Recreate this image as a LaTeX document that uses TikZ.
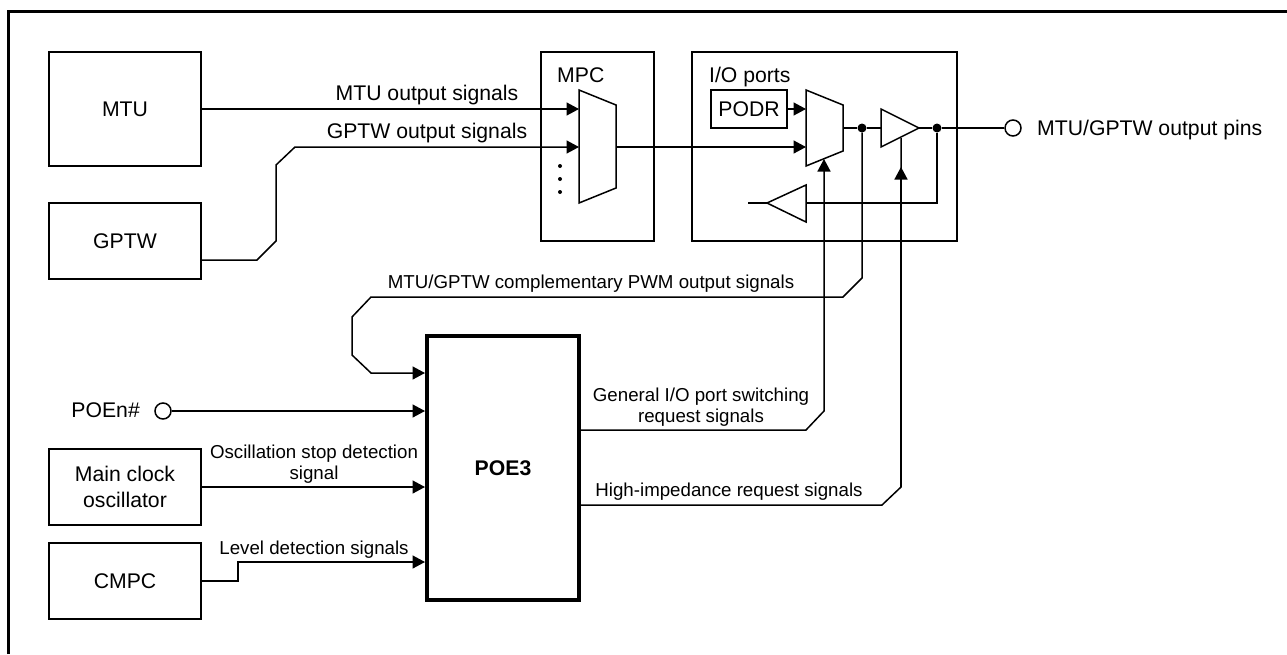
\documentclass[tikz,border=0pt]{standalone}
\usepackage{fontspec}
\setmainfont{Liberation Sans}
\usetikzlibrary{arrows.meta}
\tikzset{
 x=1pt,y=-1pt,
 wire/.style={draw=black,line width=1.5pt,line join=miter},
 arr/.style={wire,-{Triangle[length=12.5pt,width=13pt]}},
 blockbox/.style={draw=black,line width=1.5pt,fill=white,inner sep=0pt,rounded corners=0pt},
 lab/.style={font=\fontsize{21.2}{26}\selectfont,inner sep=0pt,align=center},
 smalllab/.style={font=\fontsize{18.7}{21}\selectfont,inner sep=0pt,align=center},
 junction/.style={circle,fill=black,inner sep=0pt,minimum size=9pt},
 pin/.style={circle,draw=black,line width=1.5pt,fill=white,inner sep=0pt,minimum size=16pt},
 gate/.style={draw=black,line width=1.5pt,fill=white,line join=miter},
 tinydot/.style={circle,fill=black,inner sep=0pt,minimum size=4pt},
}
\begin{document}
\begin{tikzpicture}
\useasboundingbox (0,0) rectangle (1287,654);
\fill[white] (0,0) rectangle (1287,654);
\coordinate (frameA) at (8.5,11.5);
\coordinate (frameB) at (8.5,654);
\coordinate (frameC) at (1287,11.5);
\draw[line width=3pt] (frameB) -- (frameA) -- (frameC);
% boxes
\node[blockbox,minimum width=152pt,minimum height=114pt,lab] (mtu) at (125,109) {MTU};
\node[blockbox,minimum width=152pt,minimum height=76pt,lab] (gptw) at (125,241) {GPTW};
\node[blockbox,minimum width=152pt,minimum height=76pt,lab] (osc) at (125,487) {Main clock\\oscillator};
\node[blockbox,minimum width=152pt,minimum height=76pt,lab] (cmpc) at (125,581) {CMPC};
\node[blockbox,minimum width=113pt,minimum height=189pt] (mpcbox) at (597.5,146.5) {};
\node[blockbox,minimum width=265pt,minimum height=189pt] (iobox) at (824.5,146.5) {};
\node[lab,anchor=base west] (mpclab) at (557,82) {MPC};
\node[lab,anchor=base west] (iolab) at (709,82) {I/O ports};
\node[blockbox,minimum width=76pt,minimum height=38pt,lab] (podr) at (749,109) {PODR};
\node[draw=black,line width=4pt,fill=white,minimum width=152pt,minimum height=264pt,inner sep=0pt,lab] (poe) at (503,468) {\textbf{POE3}};
% coordinates
\coordinate (m1a) at (579,109); \coordinate (m1b) at (579,147); \coordinate (m1o) at (616,147);
\coordinate (m2a) at (806,109); \coordinate (m2b) at (806,147); \coordinate (m2o) at (843,128);
\coordinate (m2s) at (824,159); \coordinate (b1s) at (901,167);
\coordinate (b1i) at (881,128); \coordinate (b1o) at (919,128);
\coordinate (b2i) at (806,203); \coordinate (b2o) at (767,203); \coordinate (b2e) at (748,203);
\node[junction] (j1) at (862,128) {};
\node[junction] (j2) at (937,128) {};
\node[pin] (outpin) at (1013,128) {};
\node[pin] (poepin) at (163,411) {};
% wires
\draw[arr] (mtu.east |- m1a) -- (m1a);
\draw[arr] (gptw.east |- 0,260) -- (257,260) -- (276,241) -- (276,165) -- (295,147) -- (m1b);
\draw[wire] (m1o) -- (700,147);
\draw[arr] (700,147) -- (m2b);
\draw[arr] (podr.east) -- (m2a);
\draw[wire] (m2o) -- (j1) -- (b1i);
\draw[wire] (b1o) -- (j2) -- (outpin);
\draw[wire] (j2) -- (937,203) -- (b2i);
\draw[wire] (b2o) -- (b2e);
\draw[arr] (j1) -- (862,278) -- (843,297) -- (371,297) -- (352,317) -- (352,355) -- (371,373) -- (poe.west |- 0,373);
\draw[arr] (poepin) -- (poe.west |- poepin);
\draw[arr] (osc.east) -- (poe.west |- osc.east);
\draw[arr] (cmpc.east) -- (238,581) -- (238,562) -- (poe.west |- 0,562);
\draw[arr] (poe.east |- 0,430) -- (806,430) -- (824,411) -- (m2s);
\draw[wire] (poe.east |- 0,505) -- (882,505) -- (901,487) -- (b1s) -- (901,138);
\draw[arr] (901,487) -- (b1s);
% gates
\draw[gate] (579,90) -- (616,105) -- (616,188) -- (579,203) -- cycle;
\draw[gate] (806,90) -- (843,105) -- (843,151) -- (806,166) -- cycle;
\draw[gate] (881,109) -- (919,128) -- (881,147) -- cycle;
\draw[gate] (806,185) -- (767,203) -- (806,222) -- cycle;
\node[tinydot] (d1) at (560,166) {};
\node[tinydot] (d2) at (560,179) {};
\node[tinydot] (d3) at (560,192) {};
% labels
\node[lab,anchor=base] (t1) at (427,100) {MTU output signals};
\node[lab,anchor=base] (t2) at (427,138) {GPTW output signals};
\node[lab,anchor=base west] (t3) at (1037,135) {MTU/GPTW output pins};
\node[lab,anchor=base east] (t4) at (140,417.5) {POEn\#};
\node[smalllab,anchor=base] (t5) at (591,288) {MTU/GPTW complementary PWM output signals};
\node[smalllab] (t6) at (314,464) {Oscillation stop detection\\signal};
\node[smalllab,anchor=base] (t7) at (314,554) {Level detection signals};
\node[smalllab] (t8) at (701,407) {General I/O port switching\\request signals};
\node[smalllab,anchor=base] (t9) at (729,496) {High-impedance request signals};
\end{tikzpicture}
\end{document}
